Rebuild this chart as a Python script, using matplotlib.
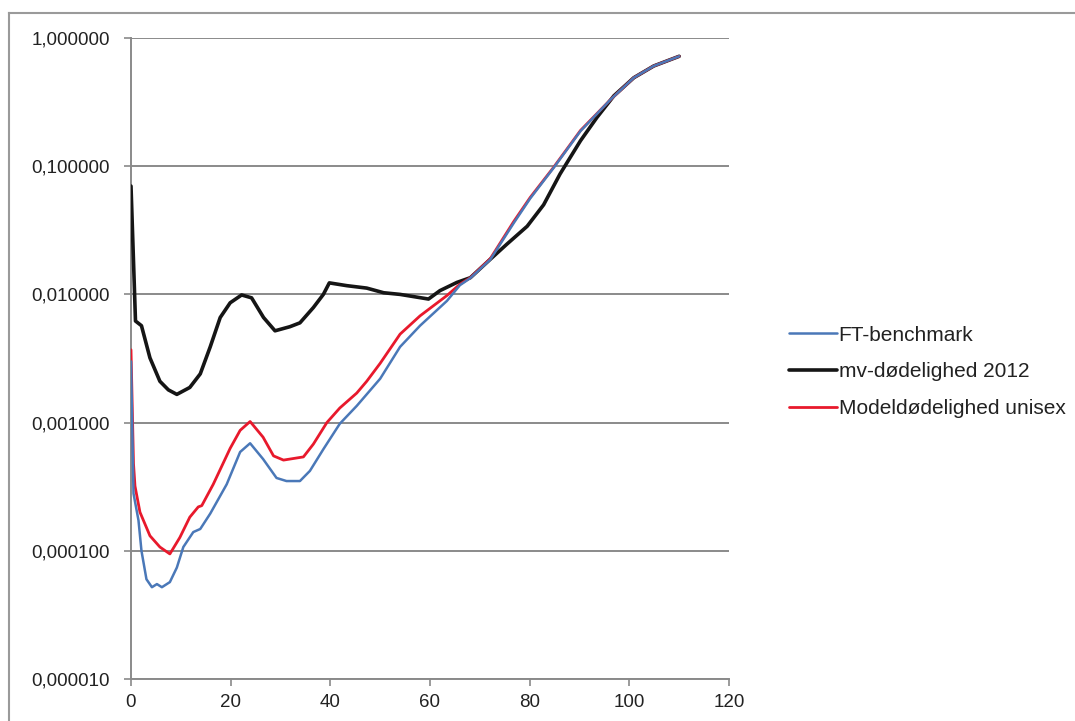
import matplotlib
matplotlib.use("Agg")
import matplotlib.pyplot as plt
from matplotlib.lines import Line2D
from matplotlib.ticker import FixedLocator, FuncFormatter, NullLocator

plt.rcParams['font.family'] = ['Liberation Sans', 'DejaVu Sans']

# FT-benchmark (blue)
ages_ft = [0, 0.5, 1.5, 2.1, 3.1, 4.2, 5.2, 6.2, 7.8, 9.2, 10.5, 12.5, 13.9, 15.9, 19.2,
           21.9, 23.9, 26.5, 29.2, 31.2, 33.9, 35.9, 38.6, 41.9, 45.3, 50, 54, 58, 63.4,
           66, 68.1, 72.1, 76.8, 80.1, 84.8, 90.2, 96.2, 100.9, 104.9, 110]
vals_ft = [0.0030, 0.00028, 0.000173, 0.0001, 0.00006, 0.000052, 0.000055, 0.000052,
           0.000057, 0.000074, 0.000107, 0.00014, 0.000148, 0.000195, 0.00033, 0.00059,
           0.00069, 0.00052, 0.00037, 0.00035, 0.00035, 0.00042, 0.00062, 0.00098,
           0.00135, 0.0022, 0.0039, 0.0057, 0.0089, 0.0118, 0.0134, 0.0187, 0.036,
           0.056, 0.097, 0.188, 0.33, 0.49, 0.605, 0.72]

# mv-dødelighed 2012 (black)
ages_mv = [0, 0.9, 2.1, 3.8, 5.8, 7.5, 9.2, 11.8, 13.9, 15.9, 17.9, 19.9, 22.2, 24.2,
           26.6, 28.9, 31.9, 33.9, 36.6, 38.6, 39.8, 43.3, 47.3, 50.7, 54, 59.7, 62,
           65.4, 68.1, 72.1, 75.4, 79.5, 82.8, 86.1, 90.2, 93.5, 96.9, 100.9, 104.9, 110]
vals_mv = [0.07, 0.0062, 0.0057, 0.0032, 0.0021, 0.0018, 0.00166, 0.00188, 0.0024,
           0.0039, 0.0066, 0.0086, 0.0099, 0.0094, 0.0066, 0.0052, 0.0056, 0.0060,
           0.0079, 0.0100, 0.0123, 0.0117, 0.0112, 0.0103, 0.0100, 0.0092, 0.0107,
           0.0124, 0.0135, 0.0188, 0.0246, 0.034, 0.050, 0.087, 0.158, 0.24, 0.354,
           0.49, 0.605, 0.72]

# Modeldødelighed unisex (red)
ages_md = [0, 0.5, 0.8, 1.8, 3.8, 5.8, 7.8, 9.8, 11.8, 13.5, 14.2, 16.5, 19.9, 21.9,
           23.9, 26.5, 28.6, 30.6, 34.6, 36.6, 39.3, 41.9, 45.3, 47.3, 50, 54, 58, 63.4,
           66, 68.1, 72.1, 76.8, 80.1, 84.8, 90.2, 96.2, 100.9, 104.9, 110]
vals_md = [0.0037, 0.00048, 0.00032, 0.00020, 0.000131, 0.000107, 0.0000945, 0.000127,
           0.000183, 0.00022, 0.000225, 0.00033, 0.00063, 0.00087, 0.00102, 0.00077,
           0.00055, 0.00051, 0.00054, 0.00068, 0.0010, 0.0013, 0.0017, 0.0021, 0.0029,
           0.0049, 0.0068, 0.0098, 0.012, 0.0135, 0.0190, 0.037, 0.057, 0.098, 0.19,
           0.33, 0.49, 0.605, 0.72]

labels = ["FT-benchmark", "mv-dødelighed 2012", "Modeldødelighed unisex"]
yticks = [0.00001, 0.0001, 0.001, 0.01, 0.1, 1.0]
xticks = [0, 20, 40, 60, 80, 100, 120]

fig = plt.figure(figsize=(10.75, 7.21), dpi=100)
ax = fig.add_axes([131/1075, 42/721, 598/1075, 641/721])

kw = dict(solid_joinstyle='round', solid_capstyle='round')
ax.plot(ages_mv, vals_mv, color='#151515', lw=2.6, label=labels[1], zorder=3, **kw)
ax.plot(ages_md, vals_md, color='#e8192c', lw=2.0, label=labels[2], zorder=4, **kw)
ax.plot(ages_ft, vals_ft, color='#4a78b8', lw=1.8, label=labels[0], zorder=5, **kw)

ax.set_yscale('log')
ax.set_ylim(0.00001, 1.0)
ax.set_xlim(0, 120)
ax.yaxis.set_major_locator(FixedLocator(yticks))
ax.yaxis.set_minor_locator(NullLocator())
ax.yaxis.set_major_formatter(FuncFormatter(lambda v, p: f"{v:.6f}".replace('.', ',')))
ax.xaxis.set_major_locator(FixedLocator(xticks))
ax.xaxis.set_major_formatter(FuncFormatter(lambda v, p: f"{int(v)}"))

ax.grid(axis='y', color='#8a8a8a', lw=1.4, zorder=1)
ax.set_axisbelow(True)
for s in ['top', 'right']:
    ax.spines[s].set_visible(False)
for s in ['left', 'bottom']:
    ax.spines[s].set_color('#8a8a8a')
    ax.spines[s].set_linewidth(1.4)
ax.tick_params(axis='both', colors='#8a8a8a', labelcolor='#222222', labelsize=13.5,
               length=5, width=1.2)
ax.tick_params(axis='x', direction='out', pad=6)
ax.tick_params(axis='y', direction='out', pad=10)

h, l = ax.get_legend_handles_labels()
order = [l.index(x) for x in labels]
leg = fig.legend([h[i] for i in order], [l[i] for i in order], loc='center left',
                 bbox_to_anchor=(770/1075, 1 - 372/721), frameon=False, fontsize=15,
                 handlelength=2.3, handletextpad=0.1, labelspacing=0.85)
for t in leg.get_texts():
    t.set_color('#222222')

fig.add_artist(Line2D([9/1075, 9/1075], [0, 1 - 13/721], transform=fig.transFigure,
                      color='#9a9a9a', lw=1.5))
fig.add_artist(Line2D([9/1075, 1], [1 - 13/721, 1 - 13/721], transform=fig.transFigure,
                      color='#9a9a9a', lw=1.5))

fig.savefig('out.png', dpi=100)
